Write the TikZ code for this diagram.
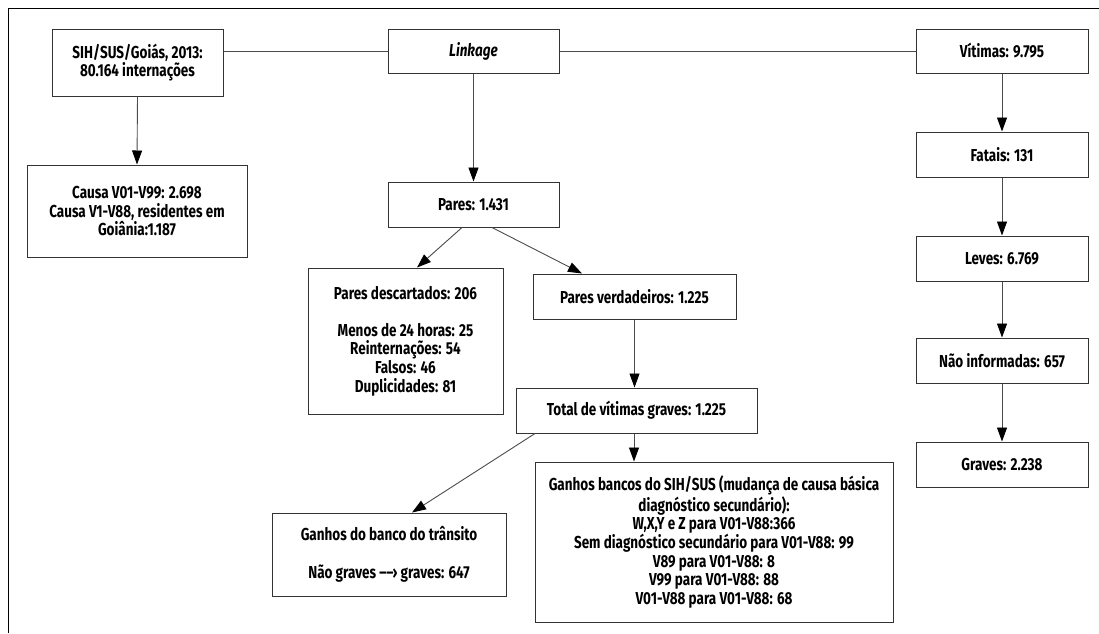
\documentclass[tikz,border=0pt]{standalone}
\usepackage{fontspec}
\setmainfont{Fira Sans}[FakeStretch=0.78]
\usetikzlibrary{arrows.meta,calc}
\tikzset{
  box/.style={draw=black!80, line width=1pt, fill=white, align=center, inner sep=0pt,
    font=\fontsize{17.3}{18.6}\selectfont\bfseries},
  conn/.style={draw=black!70, line width=0.9pt},
  arr/.style={conn, -{Triangle[length=14pt,width=10pt,color=black,fill=black]}},
}
\begin{document}
\begin{tikzpicture}[x=1pt,y=-1pt]
\useasboundingbox (0,0) rectangle (1099,633);
\draw[black, line width=1pt] (8,633) -- (8,8) -- (1099,8);

\node[box, minimum width=171, minimum height=67] (sih) at (137.5,62.5) {SIH/SUS/Goiás, 2013:\\80.164 internações};
\node[box, minimum width=220, minimum height=92] (causa) at (137,211) {Causa V01-V99: 2.698\\Causa V1-V88, residentes em\\Goiânia:1.187};
\node[box, minimum width=171, minimum height=44] (link) at (473.5,51) {\itshape Linkage};
\node[box, minimum width=171, minimum height=45] (pares) at (473.5,204.5) {Pares: 1.431};
\node[box, minimum width=195, minimum height=146] (desc) at (405.5,341) {Pares descartados: 206\\[18.6pt]Menos de 24 horas: 25\\Reinternações: 54\\Falsos: 46\\Duplicidades: 81};
\node[box, minimum width=203, minimum height=45] (verd) at (634.5,296.5) {Pares verdadeiros: 1.225};
\node[box, minimum width=241, minimum height=45] (total) at (636.5,410.5) {Total de vítimas graves: 1.225};
\node[box, minimum width=358, minimum height=160] (gsih) at (714,542) {Ganhos bancos do SIH/SUS (mudança de causa básica\\diagnóstico secundário):\\W,X,Y e Z para V01-V88:366\\Sem diagnóstico secundário para V01-V88: 99\\V89 para V01-V88: 8\\V99 para V01-V88: 88\\V01-V88 para V01-V88: 68};
\node[box, minimum width=234, minimum height=83] (gtrans) at (389,554.5) {Ganhos do banco do trânsito\\[19pt]Não graves ––› graves: 647};
\node[box, minimum width=172, minimum height=44] (vit) at (1002,51) {Vítimas: 9.795};
\node[box, minimum width=172, minimum height=45] (fat) at (1002,154.5) {Fatais: 131};
\node[box, minimum width=172, minimum height=45] (lev) at (1002,258.5) {Leves: 6.769};
\node[box, minimum width=172, minimum height=45] (nao) at (1002,360.5) {Não informadas: 657};
\node[box, minimum width=172, minimum height=45] (grav) at (1002,464.5) {Graves: 2.238};

\draw[conn] (link.west) -- (link.west -| sih.east);
\draw[conn] (link.east) -- (vit.west);
\draw[arr] (sih.south) -- (causa.north);
\draw[arr] (link.south) -- (pares.north);
\draw[arr] ([xshift=-11.5]pares.south) -- ([xshift=11.5]desc.north);
\draw[arr] ([xshift=18.5]pares.south) -- ([xshift=-52.5]verd.north);
\draw[arr] (verd.south) -- (verd.south |- total.north);
\draw[arr] ([xshift=-101.5]total.south) -- ([xshift=23]gtrans.north);
\draw[arr] ([xshift=-2.5]total.south) -- ([xshift=-2.5]total.south |- gsih.north);
\draw[arr] (vit.south) -- (fat.north);
\draw[arr] (fat.south) -- (lev.north);
\draw[arr] (lev.south) -- (nao.north);
\draw[arr] (nao.south) -- (grav.north);
\end{tikzpicture}
\end{document}
